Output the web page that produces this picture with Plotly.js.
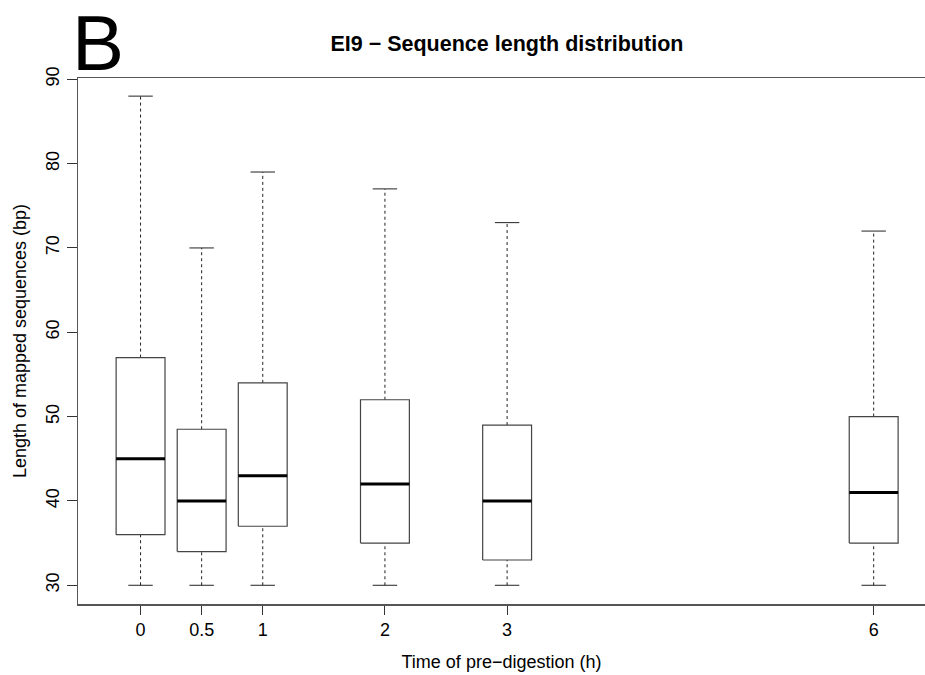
<!DOCTYPE html>
<html>
<head>
<meta charset="utf-8">
<script src="https://cdn.plot.ly/plotly-3.0.1.min.js"></script>
<style>html,body{margin:0;padding:0;background:#fff;}#chart{width:925px;height:675px;}</style>
</head>
<body>
<div id="chart"></div>
<script>
// Data
const positions = [0, 0.5, 1, 2, 3, 6];
const tickLabels = ["0", "0.5", "1", "2", "3", "6"];
const lowerWhisker = [30, 30, 30, 30, 30, 30];
const q1 = [36, 34, 37, 35, 33, 35];
const medians = [45, 40, 43, 42, 40, 41];
const q3 = [57, 48.5, 54, 52, 49, 50];
const upperWhisker = [88, 70, 79, 77, 73, 72];

const halfBox = 0.2;
const halfCap = 0.1;

const boxX = [], boxY = [], medX = [], medY = [], whX = [], whY = [], capX = [], capY = [];
positions.forEach((p, i) => {
  boxX.push(p - halfBox, p + halfBox, p + halfBox, p - halfBox, p - halfBox, null);
  boxY.push(q1[i], q1[i], q3[i], q3[i], q1[i], null);
  medX.push(p - halfBox, p + halfBox, null);
  medY.push(medians[i], medians[i], null);
  whX.push(p, p, null, p, p, null);
  whY.push(lowerWhisker[i], q1[i], null, q3[i], upperWhisker[i], null);
  capX.push(p - halfCap, p + halfCap, null, p - halfCap, p + halfCap, null);
  capY.push(lowerWhisker[i], lowerWhisker[i], null, upperWhisker[i], upperWhisker[i], null);
});

const common = {type: 'scatter', mode: 'lines', hoverinfo: 'skip', showlegend: false, connectgaps: false};
const traces = [
  Object.assign({}, common, {x: whX, y: whY, line: {color: '#222', width: 1, dash: '3px,3px'}}),
  Object.assign({}, common, {x: capX, y: capY, line: {color: '#222', width: 1}}),
  Object.assign({}, common, {x: boxX, y: boxY, line: {color: '#444', width: 1.2}}),
  Object.assign({}, common, {x: medX, y: medY, line: {color: '#000', width: 3}})
];

const font = 'Liberation Sans, Arial, Helvetica, sans-serif';
const layout = {
  width: 925, height: 675,
  margin: {l: 78, r: 0, t: 78, b: 71},
  paper_bgcolor: '#fff', plot_bgcolor: '#fff',
  font: {family: font, color: '#000', size: 18},
  title: {text: '<b>EI9 − Sequence length distribution</b>', x: 0.548, xanchor: 'center', y: 0.935, yanchor: 'middle', font: {family: font, size: 21.5, color: '#000'}},
  xaxis: {
    range: [-0.512, 6.42], tickmode: 'array', tickvals: positions, ticktext: tickLabels,
    ticks: 'outside', ticklen: 9, tickcolor: '#333', showgrid: false, zeroline: false,
    showline: true, mirror: true, linecolor: '#555', linewidth: 1.5,
    tickfont: {size: 18}, title: {text: 'Time of pre−digestion (h)', font: {size: 18}, standoff: 16}
  },
  yaxis: {
    range: [27.78, 90.15], tickmode: 'array', tickvals: [30, 40, 50, 60, 70, 80, 90],
    ticks: 'outside', ticklen: 10, tickcolor: '#333', showgrid: false, zeroline: false,
    showline: true, linecolor: '#555', linewidth: 1.5, tickangle: -90,
    tickfont: {size: 18}, title: {text: 'Length of mapped sequences (bp)', font: {size: 18}, standoff: 12}
  },
  annotations: [{text: 'B', xref: 'paper', yref: 'paper', x: 0.0236, y: 1.066, xanchor: 'center', yanchor: 'middle', showarrow: false, font: {family: font, size: 78, color: '#000'}}]
};

Plotly.newPlot('chart', traces, layout, {displayModeBar: false, staticPlot: true});
</script>
</body>
</html>
